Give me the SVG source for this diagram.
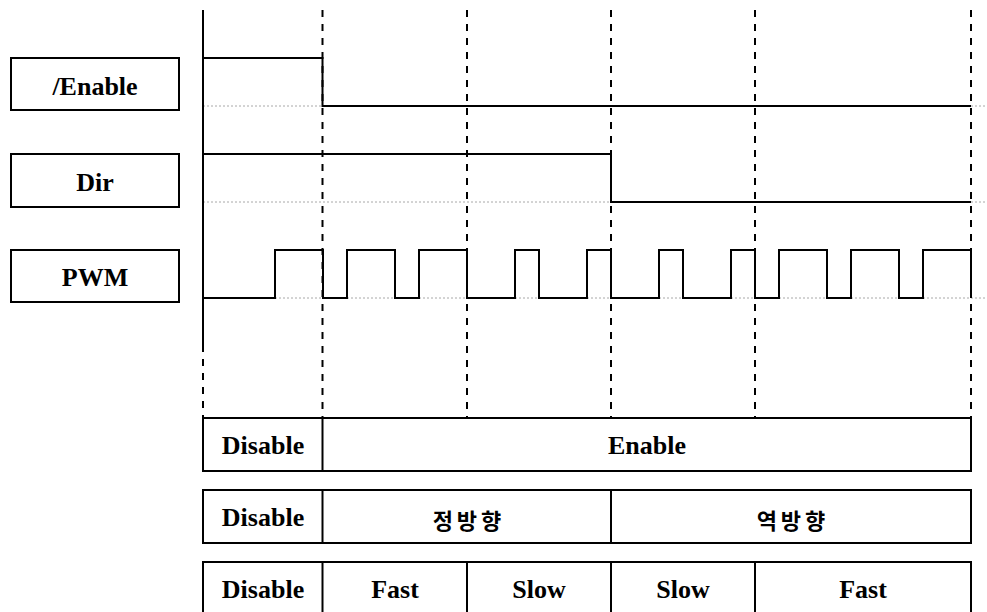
<svg xmlns="http://www.w3.org/2000/svg" width="987" height="612" viewBox="0 0 987 612">
<style>
.sig{fill:none;stroke:#000;stroke-width:2}
.base{fill:none;stroke:#a8a8a8;stroke-width:1;stroke-dasharray:2 2}
.dash{fill:none;stroke:#000;stroke-width:2;stroke-dasharray:7 7}
.solid{fill:none;stroke:#000;stroke-width:2}
.box{fill:#fff;stroke:#000;stroke-width:2}
.cell{fill:none;stroke:#000;stroke-width:2}
.lbl{font-family:"Liberation Serif","Times New Roman",serif;font-weight:bold;font-size:26px;text-anchor:middle;fill:#000}
.kr{font-family:"Noto Sans CJK KR","Noto Sans CJK SC",sans-serif;font-weight:bold;font-size:22px;text-anchor:middle;letter-spacing:4px;fill:#000}
</style>
<rect width="987" height="612" fill="#fff"/>

<g id="baselines">
<line class="base" x1="203" y1="106" x2="987" y2="106"/>
<line class="base" x1="203" y1="202" x2="987" y2="202"/>
<line class="base" x1="203" y1="298" x2="987" y2="298"/>
</g>

<g id="connectors">
<line class="solid" x1="203" y1="10" x2="203" y2="352"/>
<line class="dash" x1="203" y1="359" x2="203" y2="418"/>
<line class="dash" x1="322.5" y1="10" x2="322.5" y2="418"/>
<line class="dash" x1="467" y1="10" x2="467" y2="418"/>
<line class="dash" x1="611" y1="10" x2="611" y2="418"/>
<line class="dash" x1="755" y1="10" x2="755" y2="418"/>
<line class="dash" x1="971" y1="10" x2="971" y2="418"/>
</g>

<g id="label-enable">
<rect class="box" x="11" y="58" width="168" height="52"/>
<text class="lbl" x="95" y="95">/Enable</text>
</g>
<g id="label-dir">
<rect class="box" x="11" y="154" width="168" height="53"/>
<text class="lbl" x="95" y="191">Dir</text>
</g>
<g id="label-pwm">
<rect class="box" x="11" y="250" width="168" height="52"/>
<text class="lbl" x="95" y="286">PWM</text>
</g>

<g id="wave-enable">
<polyline class="sig" points="203,58 322.5,58 322.5,106 971,106"/>
</g>
<g id="wave-dir">
<polyline class="sig" points="203,154 611,154 611,202 971,202"/>
</g>
<g id="wave-pwm">
<polyline class="sig" points="203,298 275,298 275,250 323,250 323,298 347,298 347,250 395,250 395,298 419,298 419,250 467,250 467,298 515,298 515,250 539,250 539,298 587,298 587,250 611,250 611,298 659,298 659,250 683,250 683,298 731,298 731,250 755,250 755,298 779,298 779,250 827,250 827,298 851,298 851,250 899,250 899,298 923,298 923,250 971,250 971,298"/>
</g>

<g id="row-enable">
<rect class="cell" x="203" y="418" width="768" height="53"/>
<line class="cell" x1="322.5" y1="418" x2="322.5" y2="471"/>
<text class="lbl" x="263" y="454">Disable</text>
<text class="lbl" x="647" y="454">Enable</text>
</g>

<g id="row-dir">
<rect class="cell" x="203" y="490" width="768" height="53"/>
<line class="cell" x1="322.5" y1="490" x2="322.5" y2="543"/>
<line class="cell" x1="611" y1="490" x2="611" y2="543"/>
<text class="lbl" x="263" y="526">Disable</text>
<text class="kr" x="469" y="529">정방향</text>
<text class="kr" x="793" y="529">역방향</text>
</g>

<g id="row-speed">
<rect class="cell" x="203" y="562" width="768" height="53"/>
<line class="cell" x1="322.5" y1="562" x2="322.5" y2="615"/>
<line class="cell" x1="467" y1="562" x2="467" y2="615"/>
<line class="cell" x1="611" y1="562" x2="611" y2="615"/>
<line class="cell" x1="755" y1="562" x2="755" y2="615"/>
<text class="lbl" x="263" y="598">Disable</text>
<text class="lbl" x="395" y="598">Fast</text>
<text class="lbl" x="539" y="598">Slow</text>
<text class="lbl" x="683" y="598">Slow</text>
<text class="lbl" x="863" y="598">Fast</text>
</g>
</svg>
